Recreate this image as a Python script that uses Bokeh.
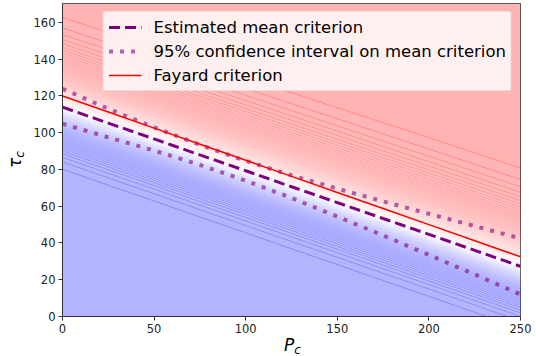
import math
from statistics import NormalDist
import numpy as np
from bokeh.plotting import figure
from bokeh.layouts import column, row
from bokeh.models import Range1d, Legend, LegendItem, FixedTicker, Div
from bokeh.embed import file_html
from bokeh.resources import INLINE

# ---- data ----
P_pts = [0, 25, 50, 75, 100, 125, 150, 175, 200, 225, 250]
mean_crit = [113.9, 105.2, 96.6, 87.9, 79.3, 70.6, 62.0, 53.3, 44.7, 36.0, 27.3]
ci_upper = [123.9, 113.0, 102.9, 93.4, 84.7, 76.8, 69.6, 62.6, 55.9, 49.2, 42.5]
ci_lower = [104.9, 97.5, 90.3, 82.5, 73.9, 64.5, 54.4, 44.1, 33.5, 22.9, 12.0]
fayard = [120.0, 111.25, 102.5, 93.75, 85.0, 76.25, 67.5, 58.75, 50.0, 41.25, 32.5]

# spread of the probability field around the mean criterion
spread_P = [0, 250]
spread_above = [21.0, 23.0]
spread_below = [14.5, 14.5]
n_levels = 100

x_ticks = [0, 50, 100, 150, 200, 250]
y_ticks = [0, 20, 40, 60, 80, 100, 120, 140, 160]
x_max = 250
y_max = 170.3

FONT = "DejaVu Sans"


def bwr(v):
    v = np.asarray(v, dtype=float)
    r = np.where(v < 0.5, 2 * v, 1.0)
    g = np.where(v < 0.5, 2 * v, 2 - 2 * v)
    b = np.where(v < 0.5, 1.0, 2 - 2 * v)
    return r, g, b


# ---- background probability field ----
nx, ny = 916, 626
Pg = (np.arange(nx) + 0.5) / nx * x_max
Tg = (np.arange(ny) + 0.5) / ny * y_max
PP, TT = np.meshgrid(Pg, Tg)
m = np.interp(PP, P_pts, mean_crit)
su = np.interp(PP, spread_P, spread_above)
sl = np.interp(PP, spread_P, spread_below)
d = TT - m
z = np.where(d > 0, d / su, d / sl)
erf = np.frompyfunc(math.erf, 1, 1)
prob = 0.5 * (1 + erf(z / math.sqrt(2)).astype(float))
band = np.clip(np.floor(prob * n_levels), 0, n_levels - 1)
mid = (band + 0.5) / n_levels
r, g, b = bwr(mid)
alpha = 0.3
rgba = np.empty((ny, nx, 4), dtype=np.uint8)
rgba[..., 0] = np.round(255 * (1 - alpha * (1 - r)))
rgba[..., 1] = np.round(255 * (1 - alpha * (1 - g)))
rgba[..., 2] = np.round(255 * (1 - alpha * (1 - b)))
rgba[..., 3] = 255
img = rgba.view(dtype=np.uint32).reshape((ny, nx))

p = figure(width=506, height=338, x_range=Range1d(0, x_max), y_range=Range1d(0, y_max),
           output_backend="svg", toolbar_location=None,
           min_border_left=32, min_border_right=16, min_border_top=3, min_border_bottom=22)
p.image_rgba(image=[img], x=0, y=0, dw=x_max, dh=y_max)

# contour seams
nd = NormalDist()
xs, ys, cols = [], [], []
Pa = np.array(P_pts, dtype=float)
ma = np.array(mean_crit)
sua = np.interp(Pa, spread_P, spread_above)
sla = np.interp(Pa, spread_P, spread_below)
for k in range(1, n_levels):
    lev = k / n_levels
    zk = nd.inv_cdf(lev)
    s = sua if zk > 0 else sla
    xs.append(list(Pa))
    ys.append(list(ma + zk * s))
    rr, gg, bb = bwr(lev)
    cols.append("#%02x%02x%02x" % (int(255 * rr), int(255 * gg), int(255 * bb)))
p.multi_line(xs, ys, line_color=cols, line_alpha=0.3, line_width=0.8)

r_mean = p.line(P_pts, mean_crit, line_color="purple", line_width=3, line_dash="11 5")
r_up = p.line(P_pts, ci_upper, line_color="purple", line_alpha=0.6, line_width=4, line_dash="4 7")
r_lo = p.line(P_pts, ci_lower, line_color="purple", line_alpha=0.6, line_width=4, line_dash="4 7")
r_fay = p.line(P_pts, fayard, line_color="red", line_width=1.5)

legend = Legend(items=[
    LegendItem(label="Estimated mean criterion", renderers=[r_mean]),
    LegendItem(label="95% confidence interval on mean criterion", renderers=[r_up]),
    LegendItem(label="Fayard criterion", renderers=[r_fay]),
], location="top_right")
legend.label_text_font = FONT
legend.label_text_font_size = "16.5px"
legend.label_text_color = "black"
legend.glyph_width = 33
legend.glyph_height = 20
legend.label_height = 20
legend.label_standoff = 12
legend.spacing = 4
legend.padding = 5
legend.margin = 8
legend.background_fill_color = "white"
legend.background_fill_alpha = 0.8
legend.border_line_color = "#cccccc"
legend.border_line_width = 1
if "border_radius" in Legend.properties():
    legend.border_radius = 3
p.add_layout(legend)

p.xgrid.visible = False
p.ygrid.visible = False
p.outline_line_color = "#333333"
p.outline_line_width = 1
for ax, ticks in ((p.xaxis, x_ticks), (p.yaxis, y_ticks)):
    ax.ticker = FixedTicker(ticks=ticks)
    ax.minor_tick_line_color = None
    ax.major_tick_out = 4
    ax.major_tick_in = 0
    ax.major_label_standoff = 3
    ax.major_label_text_font = FONT
    ax.major_label_text_font_size = "11.5px"
    ax.major_label_text_color = "#222222"
    ax.axis_line_color = "#333333"
    ax.major_tick_line_color = "#333333"

# axis labels with subscripts (real HTML text)
ylab = Div(width=30, height=338, margin=0, text=(
    '<div style="position:absolute; left:7px; top:168px; transform:rotate(-90deg); '
    'transform-origin:0 0; white-space:nowrap; font-family:\'DejaVu Sans\'; font-style:italic; '
    'font-size:17px; line-height:17px; color:black;">τ<span style="font-size:12px; '
    'position:relative; top:3px;">c</span></div>'))
xlab = Div(width=536, height=18, margin=0, text=(
    '<div style="position:absolute; left:284px; top:0px; white-space:nowrap; '
    'font-family:\'DejaVu Sans\'; font-style:italic; font-size:17px; line-height:14px; '
    'color:black;">P<span style="font-size:12px; position:relative; top:3px;">c</span></div>'))

layout = column(row(ylab, p, spacing=0), xlab, spacing=0)
open("out.html", "w").write(file_html(layout, INLINE))
